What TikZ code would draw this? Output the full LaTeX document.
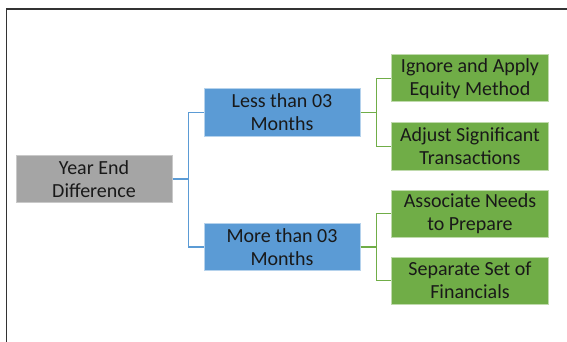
\documentclass[tikz,border=0pt]{standalone}
\usepackage{fontspec}
\setmainfont{Carlito}
\definecolor{boxgray}{HTML}{A5A5A5}
\definecolor{boxblue}{HTML}{5B9BD5}
\definecolor{boxgreen}{HTML}{70AD47}
\tikzset{
  basebox/.style={minimum height=47, inner sep=0pt, align=center, text=black!90,
    font=\fontsize{20}{23}\selectfont, line width=1pt},
  graybox/.style={basebox, fill=boxgray, draw=boxgray!60, minimum width=156},
  bluebox/.style={basebox, fill=boxblue, draw=boxblue!45, minimum width=156},
  greenbox/.style={basebox, fill=boxgreen, draw=boxgreen!45, minimum width=157},
  blueline/.style={draw=boxblue, line width=1.2pt},
  greenline/.style={draw=boxgreen, line width=1.2pt}
}
\begin{document}
\begin{tikzpicture}[x=1pt, y=-1pt]
  \useasboundingbox (0,0) rectangle (567,342);
  % outer frame
  \draw [black!80, line width=1.8pt] (567,9) -- (6.5,9) -- (6.5,342);
  % nodes
  \node [graybox]  (year)  at (94,179)    {Year End\\Difference};
  \node [bluebox]  (less)  at (282,112.5) {Less than 03\\Months};
  \node [bluebox]  (more)  at (282,247)   {More than 03\\Months};
  \node [greenbox] (ignore)   at (470,78.5)  {Ignore and Apply\\Equity Method};
  \node [greenbox] (adjust)   at (470,146.5) {Adjust Significant\\Transactions};
  \node [greenbox] (prepare)  at (470,213.5) {Associate Needs\\to Prepare};
  \node [greenbox] (separate) at (470,280.5) {Separate Set of\\Financials};
  % connectors
  \draw [blueline] (year.east) -- ++(16,0) |- (less.west);
  \draw [blueline] (year.east) -- ++(16,0) |- (more.west);
  \foreach \a/\b in {less/ignore, less/adjust, more/prepare, more/separate}
    \draw [greenline] (\a.east) -- ++(16,0) |- (\b.west);
\end{tikzpicture}
\end{document}
